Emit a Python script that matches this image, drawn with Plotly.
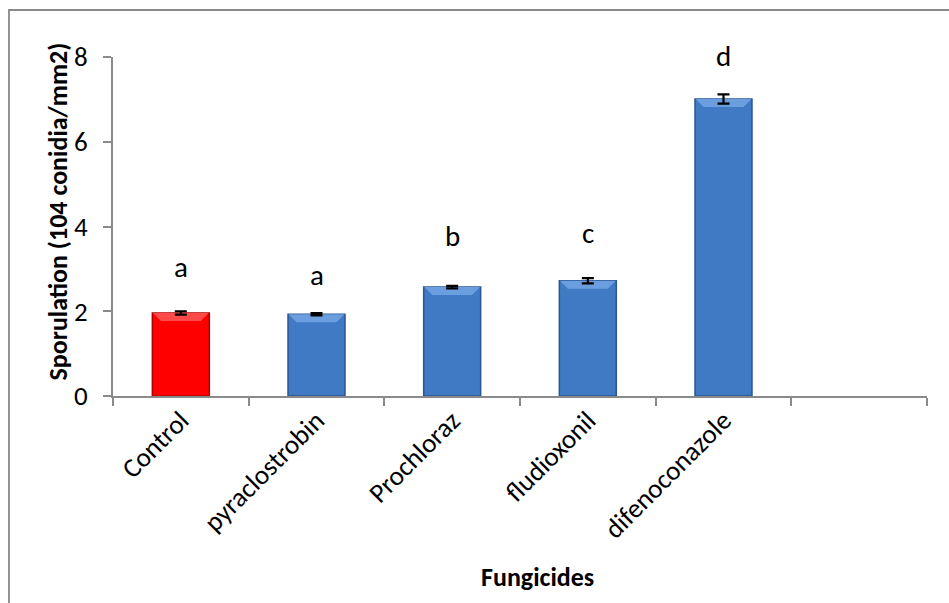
import plotly.graph_objects as go

# Sporulation per fungicide treatment
fungicides = ["Control", "pyraclostrobin", "Prochloraz", "fludioxonil", "difenoconazole"]
sporulation = [1.96, 1.93, 2.57, 2.72, 7.01]
sporulation_err = [0.04, 0.025, 0.03, 0.06, 0.11]
letters = ["a", "a", "b", "c", "d"]
letter_y = [3.05, 2.86, 3.78, 3.85, 8.02]
y_ticks = [0, 2, 4, 6, 8]

bar_colors = ["#FF0000"] + ["#4079C4"] * 4
edge_colors = ["#B00000"] + ["#2B5690"] * 4
bevel_colors = ["#FF4A4A"] + ["#6A9EDE"] * 4

FONT = "Calibri, Carlito, Lato, sans-serif"
AXIS_GRAY = "#8A8A8A"
Y_MAX = 8
BAR_W = 0.42
PLOT_W_PX = 949 - 113 - 22
PX_PER_UNIT = (603 - 57 - 207) / Y_MAX
X_PER_PX = 6 / PLOT_W_PX

positions = list(range(len(fungicides)))

fig = go.Figure()
fig.add_trace(go.Bar(
    x=positions,
    y=sporulation,
    width=BAR_W,
    marker=dict(color=bar_colors, line=dict(color=edge_colors, width=1.5)),
    showlegend=False, hoverinfo="skip",
))

# bevelled top face on each bar
bev_px = 8
for xi, v, col in zip(positions, sporulation, bevel_colors):
    l, r = xi - BAR_W / 2 + 0.004, xi + BAR_W / 2 - 0.004
    dx = bev_px * X_PER_PX
    dy = bev_px / PX_PER_UNIT
    fig.add_trace(go.Scatter(
        x=[l, r, r - dx, l + dx, l], y=[v, v, v - dy, v - dy, v],
        mode="lines", fill="toself", fillcolor=col, line=dict(width=0),
        showlegend=False, hoverinfo="skip",
    ))

# standard-error bars
fig.add_trace(go.Scatter(
    x=positions, y=sporulation, mode="markers", marker=dict(size=0.1, opacity=0),
    error_y=dict(type="data", array=sporulation_err, visible=True,
                 color="black", thickness=2.2, width=6),
    showlegend=False,
))

# significance letters above each bar (letters above the axis top are shifted in pixels)
for xi, lab, ly in zip(positions, letters, letter_y):
    y_in = min(ly, Y_MAX - 0.2)
    fig.add_annotation(x=xi, y=y_in, yshift=(ly - y_in) * PX_PER_UNIT,
                       text=lab, showarrow=False,
                       xanchor="center", yanchor="middle",
                       font=dict(family=FONT, size=29, color="black"))

# axis titles
fig.add_annotation(xref="paper", yref="paper", x=-0.0676, y=0.544,
                   text="<b>Sporulation (104 conidia/mm2)</b>", textangle=-90,
                   showarrow=False, xanchor="center", yanchor="middle",
                   font=dict(family=FONT, size=26, color="black"))
fig.add_annotation(xref="paper", yref="paper", x=0.521, y=-0.534,
                   text="<b>Fungicides</b>", showarrow=False,
                   xanchor="center", yanchor="middle",
                   font=dict(family=FONT, size=26, color="black"))

# chart-area frame
fig.add_shape(type="rect", xref="paper", yref="paper",
              x0=-0.1278, x1=1.3, y0=-1.2, y1=1.1386,
              line=dict(color=AXIS_GRAY, width=1.8), fillcolor="rgba(0,0,0,0)",
              layer="below")

fig.update_layout(
    width=949, height=603,
    margin=dict(l=113, r=22, t=57, b=207),
    paper_bgcolor="white", plot_bgcolor="white",
    font=dict(family=FONT, size=26, color="black"),
)

fig.update_xaxes(
    range=[-0.5, 5.5],
    tickmode="array", tickvals=positions, ticktext=fungicides,
    tickangle=-45, ticks="", showgrid=False, zeroline=False,
    showline=True, linecolor=AXIS_GRAY, linewidth=1.8,
    tickfont=dict(family=FONT, size=27, color="black"),
    ticklabelstandoff=-4,
    minor=dict(tickmode="linear", tick0=-0.5, dtick=1, ticks="outside",
               ticklen=8, tickwidth=1.8, tickcolor=AXIS_GRAY, showgrid=False),
)
fig.update_yaxes(
    range=[0, Y_MAX],
    tickmode="array", tickvals=y_ticks,
    ticks="outside", ticklen=8, tickwidth=1.8, tickcolor=AXIS_GRAY,
    showgrid=False, zeroline=False,
    showline=True, linecolor=AXIS_GRAY, linewidth=1.8,
    tickfont=dict(family=FONT, size=27, color="black"),
    ticklabelstandoff=10,
)

fig.write_html("out.html")
